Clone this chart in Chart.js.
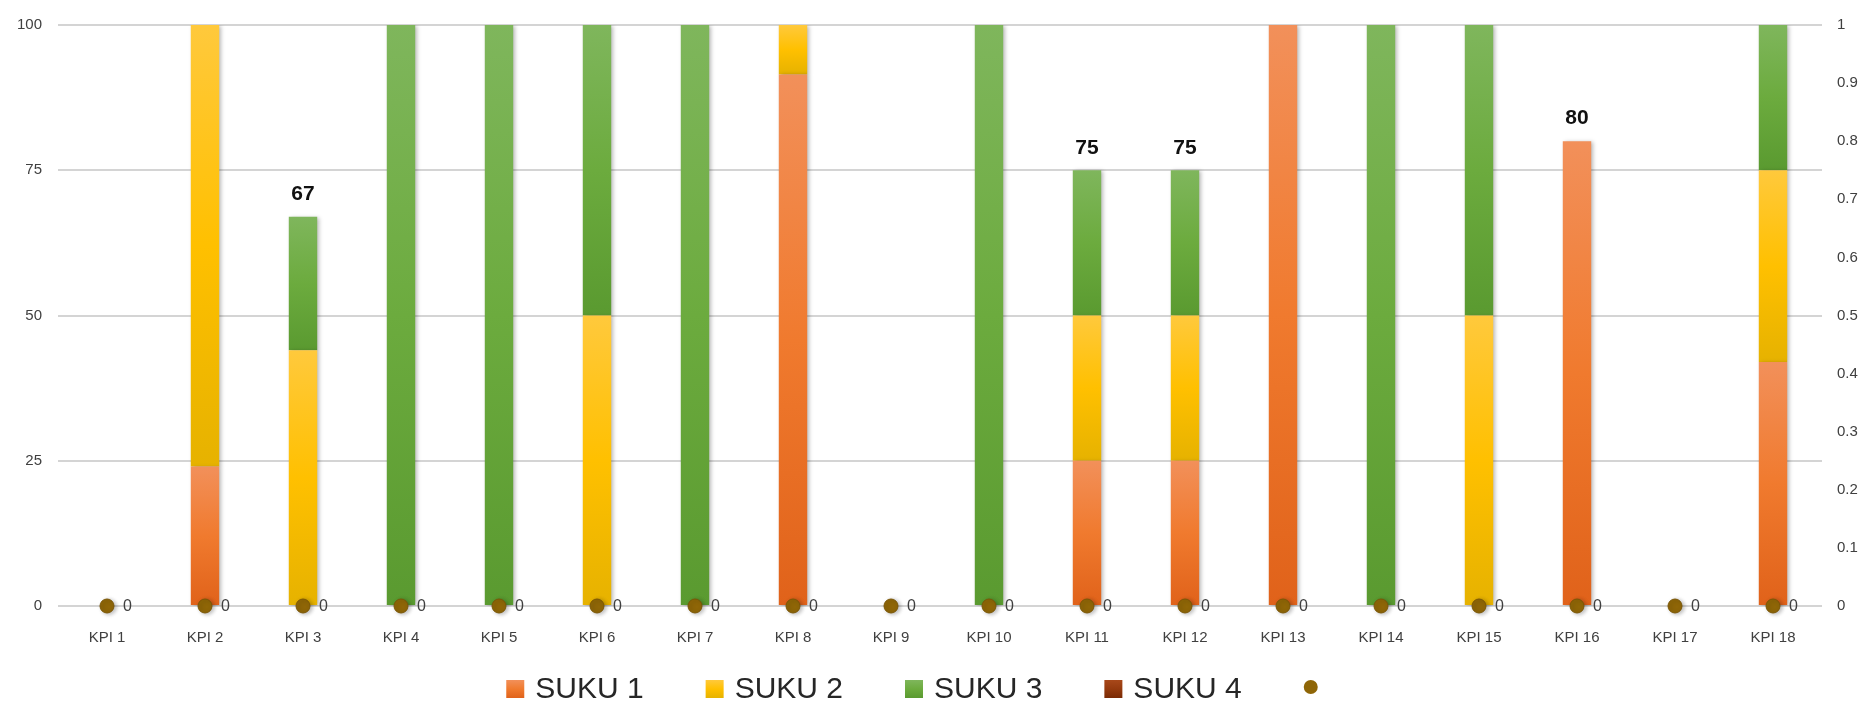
<!DOCTYPE html>
<html>
<head>
<meta charset="utf-8">
<script src="https://cdn.jsdelivr.net/npm/chart.js@4/dist/chart.umd.min.js"></script>
<style>
  html, body { margin: 0; padding: 0; background: #fff; }
  #wrap { width: 1870px; height: 704px; }
</style>
</head>
<body>
<div id="wrap"><canvas id="kpiChart" width="1870" height="704"></canvas></div>
<script>
// data
const kpiLabels = ['KPI 1', 'KPI 2', 'KPI 3', 'KPI 4', 'KPI 5', 'KPI 6', 'KPI 7', 'KPI 8', 'KPI 9',
  'KPI 10', 'KPI 11', 'KPI 12', 'KPI 13', 'KPI 14', 'KPI 15', 'KPI 16', 'KPI 17', 'KPI 18'];
const suku1 = [0, 24, 0, 0, 0, 0, 0, 91.5, 0, 0, 25, 25, 100, 0, 0, 80, 0, 42];
const suku2 = [0, 76, 44, 0, 0, 50, 0, 8.5, 0, 0, 25, 25, 0, 0, 50, 0, 0, 33];
const suku3 = [0, 0, 23, 100, 100, 50, 100, 0, 0, 100, 25, 25, 0, 100, 50, 0, 0, 25];
const suku4 = [0, 0, 0, 0, 0, 0, 0, 0, 0, 0, 0, 0, 0, 0, 0, 0, 0, 0];
const markerValues = [0, 0, 0, 0, 0, 0, 0, 0, 0, 0, 0, 0, 0, 0, 0, 0, 0, 0];
const leftTicks = [0, 25, 50, 75, 100];
const seriesNames = ['SUKU 1', 'SUKU 2', 'SUKU 3', 'SUKU 4'];

const sukuSeries = [suku1, suku2, suku3, suku4];
// light top, main, darker bottom (excel-ish gradient)
const palette = [
  ['#F2905A', '#F07A2E', '#E0621A'],
  ['#FFC93C', '#FFC000', '#E6B200'],
  ['#7FB65C', '#6CAB3E', '#5A9A30'],
  ['#A8481A', '#953A0E', '#7A2A04']
];
const dotColor = '#8F6607';
const textFont = '"Liberation Sans", Arial, sans-serif';

function segFill(si) {
  return function (c) {
    const chart = c.chart;
    const stops = palette[si];
    if (!chart.chartArea || c.type !== 'data') return stops[1];
    const y = chart.scales.y;
    let base = 0;
    for (let s = 0; s < si; s++) base += sukuSeries[s][c.dataIndex];
    const top = y.getPixelForValue(base + sukuSeries[si][c.dataIndex]);
    const bottom = y.getPixelForValue(base);
    if (!(bottom - top > 1)) return stops[1];
    const g = chart.ctx.createLinearGradient(0, top, 0, bottom);
    g.addColorStop(0, stops[0]);
    g.addColorStop(0.5, stops[1]);
    g.addColorStop(1, stops[2]);
    return g;
  };
}

const barSets = sukuSeries.map(function (vals, i) {
  return {
    type: 'bar',
    label: seriesNames[i],
    data: vals,
    yAxisID: 'y',
    stack: 'suku',
    order: 1,
    backgroundColor: segFill(i),
    borderWidth: 0,
    categoryPercentage: 1,
    barPercentage: 0.29
  };
});

const markerSet = {
  type: 'line',
  label: '',
  data: markerValues,
  yAxisID: 'y1',
  order: 0,
  clip: false,
  showLine: false,
  pointRadius: 7,
  pointBackgroundColor: dotColor,
  pointBorderColor: '#7A5606',
  pointBorderWidth: 1
};

// soft shadow under bars and dots
const shadowPlugin = {
  id: 'shadow',
  beforeDatasetDraw(chart) {
    const ctx = chart.ctx;
    ctx.save();
    ctx.shadowColor = 'rgba(0,0,0,0.28)';
    ctx.shadowBlur = 4;
    ctx.shadowOffsetX = 2;
    ctx.shadowOffsetY = 1;
  },
  afterDatasetDraw(chart) {
    chart.ctx.restore();
  }
};

// totals above the short bars + the "0" next to each dot
const labelPlugin = {
  id: 'labels',
  afterDatasetsDraw(chart) {
    const ctx = chart.ctx;
    const y = chart.scales.y;
    const x = chart.scales.x;
    ctx.save();
    ctx.fillStyle = '#111';
    ctx.font = 'bold 21px ' + textFont;
    ctx.textAlign = 'center';
    ctx.textBaseline = 'bottom';
    kpiLabels.forEach(function (lab, i) {
      let total = 0;
      sukuSeries.forEach(function (s) { total += s[i]; });
      if (total > 0 && total < 100) {
        ctx.fillText(String(Math.round(total)), x.getPixelForValue(i), y.getPixelForValue(total) - 12);
      }
    });
    const meta = chart.getDatasetMeta(chart.data.datasets.length - 1);
    ctx.fillStyle = '#404040';
    ctx.font = '16px ' + textFont;
    ctx.textAlign = 'left';
    ctx.textBaseline = 'middle';
    meta.data.forEach(function (pt, i) {
      ctx.fillText(String(markerValues[i]), pt.x + 16, pt.y + 1);
    });
    ctx.restore();
  }
};

// legend drawn under the axis
const legendPlugin = {
  id: 'bottomLegend',
  afterDraw(chart) {
    const ctx = chart.ctx;
    const box = 18, gapText = 11, gapItem = 62, cy = 689;
    ctx.save();
    ctx.font = '30px ' + textFont;
    const widths = seriesNames.map(function (n) { return ctx.measureText(n).width; });
    let total = 14;
    widths.forEach(function (w) { total += box + gapText + w + gapItem; });
    let cx = 912 - total / 2;
    seriesNames.forEach(function (n, i) {
      const g = ctx.createLinearGradient(0, cy - box / 2, 0, cy + box / 2);
      g.addColorStop(0, palette[i][0]);
      g.addColorStop(0.5, palette[i][1]);
      g.addColorStop(1, palette[i][2]);
      ctx.fillStyle = g;
      ctx.fillRect(cx, cy - box / 2, box, box);
      ctx.fillStyle = '#262626';
      ctx.textAlign = 'left';
      ctx.textBaseline = 'middle';
      ctx.fillText(n, cx + box + gapText, cy + 1);
      cx += box + gapText + widths[i] + gapItem;
    });
    ctx.beginPath();
    ctx.arc(cx + 7, cy - 2, 7, 0, Math.PI * 2);
    ctx.fillStyle = dotColor;
    ctx.fill();
    ctx.restore();
  }
};

new Chart(document.getElementById('kpiChart'), {
  data: {
    labels: kpiLabels,
    datasets: barSets.concat([markerSet])
  },
  options: {
    responsive: false,
    animation: false,
    layout: { padding: { top: 18, bottom: 56, left: 0, right: 0 } },
    plugins: {
      legend: { display: false },
      tooltip: { enabled: false }
    },
    scales: {
      x: {
        stacked: true,
        grid: { display: false },
        border: { display: false },
        ticks: {
          color: '#404040',
          font: { family: textFont, size: 15 },
          padding: 15,
          maxRotation: 0,
          autoSkip: false
        },
        afterFit(scale) { scale.height = 42; }
      },
      y: {
        stacked: true,
        position: 'left',
        min: 0,
        max: 100,
        afterBuildTicks(scale) {
          scale.ticks = leftTicks.map(function (v) { return { value: v }; });
        },
        grid: { color: '#D4D4D4', lineWidth: 2, drawTicks: false },
        border: { display: false },
        ticks: {
          color: '#404040',
          font: { family: textFont, size: 15 },
          padding: 16
        },
        afterFit(scale) { scale.width = 58; }
      },
      y1: {
        position: 'right',
        min: 0,
        max: 1,
        grid: { display: false, drawTicks: false },
        border: { display: false },
        ticks: {
          stepSize: 0.1,
          color: '#404040',
          font: { family: textFont, size: 15 },
          padding: 15,
          callback: function (v) { return String(Number(v.toFixed(1))); }
        },
        afterFit(scale) { scale.width = 48; }
      }
    }
  },
  plugins: [shadowPlugin, labelPlugin, legendPlugin]
});
</script>
</body>
</html>
